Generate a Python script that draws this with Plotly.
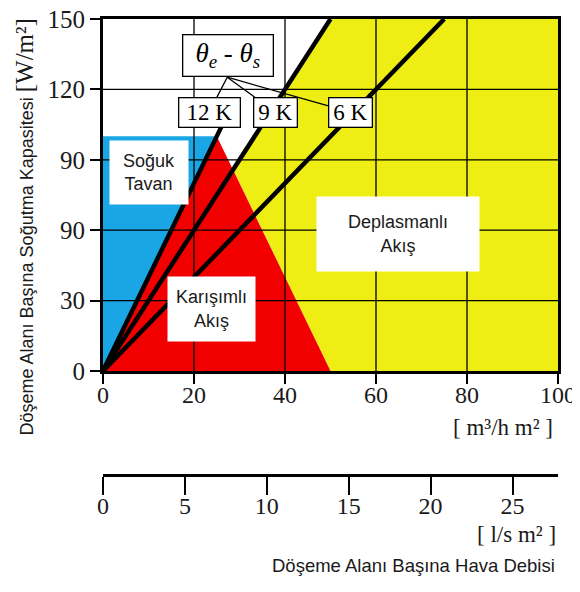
import plotly.graph_objects as go

# ---------------- data ----------------
flow_ticks = [0, 20, 40, 60, 80, 100]            # m³/h m²
flow_ls_ticks = [0, 5, 10, 15, 20, 25]           # l/s m²
cap_ticks = [0, 30, 60, 90, 120, 150]            # W/m²
cap_ticklabels = ["0", "30", "90", "90", "120", "150"]

# regions (m³/h m², W/m²)
cold_x = [0, 0, 25]
cold_y = [0, 100, 100]
mixed_x = [0, 25, 50]
mixed_y = [0, 100, 0]
displ_x = [28.6, 50, 100, 100, 50]
displ_y = [85.7, 150, 150, 0, 0]

# temperature difference lines
k12_x = [0, 27.5]
k12_y = [0, 110]
k9_x = [0, 50]
k9_y = [0, 150]
k6_x = [0, 75]
k6_y = [0, 150]

M3H_PER_LS = 3.6

SERIF = "Liberation Serif, Times New Roman, serif"
SANS = "Liberation Sans, Arial, sans-serif"

fig = go.Figure()

fig.add_trace(go.Scatter(x=displ_x, y=displ_y, fill="toself", fillcolor="#eeee14",
                         mode="lines", line=dict(width=0), hoverinfo="skip"))
fig.add_trace(go.Scatter(x=mixed_x, y=mixed_y, fill="toself", fillcolor="#f20000",
                         mode="lines", line=dict(width=0), hoverinfo="skip"))
fig.add_trace(go.Scatter(x=cold_x, y=cold_y, fill="toself", fillcolor="#1aa6e4",
                         mode="lines", line=dict(width=0), hoverinfo="skip"))

# grid lines on top of the coloured regions
gx, gy = [], []
for v in flow_ticks[1:-1]:
    gx += [v, v, None]
    gy += [cap_ticks[0], cap_ticks[-1], None]
for v in cap_ticks[1:-1]:
    gx += [flow_ticks[0], flow_ticks[-1], None]
    gy += [v, v, None]
fig.add_trace(go.Scatter(x=gx, y=gy, mode="lines", line=dict(color="black", width=1.3),
                         hoverinfo="skip"))

for lx, ly in [(k12_x, k12_y), (k9_x, k9_y), (k6_x, k6_y)]:
    fig.add_trace(go.Scatter(x=lx, y=ly, mode="lines", line=dict(color="black", width=4.5),
                             hoverinfo="skip"))

# dummy trace for secondary (l/s) axis
fig.add_trace(go.Scatter(x=flow_ls_ticks, y=[None] * len(flow_ls_ticks), xaxis="x2", yaxis="y",
                         mode="markers", hoverinfo="skip"))

annotations = []

# region labels
for txt, x, y, w, h in [("Soğuk<br>Tavan", 10.1, 84.4, 78, 63),
                        ("Karışımlı<br>Akış", 23.8, 26.5, 87, 64),
                        ("Deplasmanlı<br>Akış", 64.8, 58.5, 162, 74)]:
    annotations.append(dict(x=x, y=y, xref="x", yref="y", text=txt, showarrow=False,
                            bgcolor="white", width=w, height=h, borderpad=0,
                            font=dict(family=SANS, size=18, color="#1a1a1a")))

# ΔT labels with leader lines
tip_x, tip_y = 27.3, 125.2
for txt, ax, w in [("12 K", -18, 58), ("9 K", 48, 40), ("6 K", 123, 40)]:
    annotations.append(dict(x=tip_x, y=tip_y, xref="x", yref="y", text=txt, showarrow=True,
                            arrowhead=0, arrowwidth=1.3, arrowcolor="black", ax=ax, ay=35,
                            bgcolor="white", bordercolor="black", borderwidth=1.3,
                            borderpad=1, width=w, height=26,
                            font=dict(family=SERIF, size=23, color="black")))
annotations.append(dict(x=27.4, y=134.6, xref="x", yref="y",
                        text="<i>θ<sub>e</sub> - θ<sub>s</sub></i>", showarrow=False,
                        bgcolor="white", bordercolor="black", borderwidth=1.3, borderpad=1,
                        width=87, height=38,
                        font=dict(family=SERIF, size=27, color="black")))

# axis titles
annotations.append(dict(x=-0.1736, y=0.623, xref="paper", yref="paper", textangle=-90,
                        xanchor="center", yanchor="middle", showarrow=False,
                        text="Döşeme Alanı Başına Soğutma Kapasitesi "
                             "<span style='font-family:Liberation Serif;font-size:25px'>[W/m²]</span>",
                        font=dict(family=SANS, size=18, color="#1a1a1a")))
annotations.append(dict(x=0.9934, y=0.2604, xref="paper", yref="paper", xanchor="right",
                        yanchor="middle", showarrow=False, text="[ m³/h m² ]",
                        font=dict(family=SERIF, size=23, color="#1a1a1a")))
annotations.append(dict(x=0.999, y=0.067, xref="paper", yref="paper", xanchor="right",
                        yanchor="middle", showarrow=False, text="[ l/s m² ]",
                        font=dict(family=SERIF, size=23, color="#1a1a1a")))
annotations.append(dict(x=0.997, y=0.011, xref="paper", yref="paper", xanchor="right",
                        yanchor="middle", showarrow=False, text="Döşeme Alanı Başına Hava Debisi",
                        font=dict(family=SANS, size=18.5, color="#1a1a1a")))

# page body has an 8 px default margin: figure is sized/offset to fill the 580x592 window
fig.update_layout(
    width=572, height=584,
    margin=dict(l=95, r=22, t=11, b=20, autoexpand=False),
    paper_bgcolor="white", plot_bgcolor="white",
    showlegend=False,
    annotations=annotations,
    xaxis=dict(range=[flow_ticks[0], flow_ticks[-1]], tickvals=flow_ticks, anchor="y",
               domain=[0, 1], showgrid=False, zeroline=False, showline=True, linewidth=3,
               linecolor="black", mirror=True, ticks="outside", ticklen=10, tickwidth=1.5,
               tickcolor="black", layer="above traces", automargin=False,
               ticklabeloverflow="allow", ticklabelstandoff=-10,
               tickfont=dict(family=SERIF, size=24, color="#1a1a1a")),
    yaxis=dict(range=[cap_ticks[0], cap_ticks[-1]], tickvals=cap_ticks, ticktext=cap_ticklabels,
               domain=[0.3635, 1], showgrid=False, zeroline=False, showline=True, linewidth=3,
               linecolor="black", mirror=True, ticks="outside", ticklen=10, tickwidth=1.5,
               tickcolor="black", layer="above traces", automargin=False,
               ticklabeloverflow="allow",
               tickfont=dict(family=SERIF, size=25, color="#1a1a1a")),
    xaxis2=dict(range=[flow_ticks[0] / M3H_PER_LS, flow_ticks[-1] / M3H_PER_LS],
                tickvals=flow_ls_ticks, overlaying="x", anchor="free", position=0.1754,
                side="bottom", showgrid=False, zeroline=False, showline=True, linewidth=2.5,
                linecolor="black", ticks="outside", ticklen=18, tickwidth=1.5, tickcolor="black",
                automargin=False, ticklabeloverflow="allow", ticklabelstandoff=-10,
                tickfont=dict(family=SERIF, size=24, color="#1a1a1a")),
)

fig.write_html("out.html")
